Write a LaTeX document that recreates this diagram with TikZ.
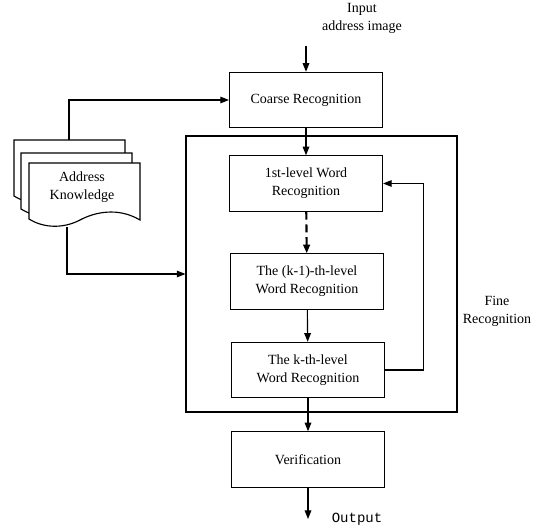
\documentclass[tikz,border=0pt]{standalone}
\usepackage{fontspec}
\setmainfont{Liberation Serif}
\setmonofont{Liberation Mono}
\usetikzlibrary{arrows.meta}

\tikzset{
  box/.style={draw, line width=0.85pt, minimum width=114.75pt, minimum height=41.5pt, align=center},
  flow/.style={-{Triangle[length=6.5pt,width=5pt]}, line width=0.85pt},
}

\begin{document}
\begin{tikzpicture}[x=0.75pt, y=-0.75pt, font=\fontsize{10.5}{13.5}\selectfont]
  \useasboundingbox (0,0) rectangle (541,531);
  % main chain
  \node[box] (coarse) at (306,100) {Coarse Recognition};
  \node[draw, line width=0.85pt, minimum width=203.25pt, minimum height=207pt] (fine) at (321.5,274) {};
  \node[box] (first) at (306,183.5) {1st-level Word\\Recognition};
  \node[box] (kmin) at (307,281.5) {The (k-1)-th-level\\Word Recognition};
  \node[box] (kth) at (308,370) {The k-th-level\\Word Recognition};
  \node[box] (verif) at (308,459.5) {Verification};
  \node[align=center] (finelbl) at (497,311) {Fine\\Recognition};
  \node[align=center] (input) at (362,18) {Input\\address image};
  \coordinate (in) at (306,46);
  \coordinate (out) at (308,519);
  \node[font=\ttfamily\fontsize{10.5}{13.5}\selectfont] (outlbl) at (357,519) {Output};
  % address knowledge documents
  \foreach \dx/\dy in {-15/-23, -8/-10, 0/0}
    \draw[line width=0.85pt, fill=white, shift={(\dx,\dy)}]
      (29,163) -- (140,163) -- (140,220) .. controls (118,207) and (95,212) .. (80,220)
      .. controls (65,228) and (45,229) .. (29,219) -- cycle;
  \node[align=center] (kb) at (82,187) {Address\\Knowledge};
  \coordinate (kbtop) at (69,140);
  \coordinate (kbbot) at (67,227);
  % connectors
  \draw[flow] (in) -- (coarse);
  \draw[flow] (kbtop) |- (coarse.west);
  \draw[flow] (kbbot) |- (fine.west);
  \draw[flow] (coarse) -- (first);
  \draw[flow, line width=1.6pt, dash pattern=on 6pt off 3.5pt] (first) -- (kmin);
  \draw[flow] (kmin) -- (kth);
  \draw[flow] (kth.east) -- ++(38,0) |- (first.east);
  \draw[flow] (kth) -- (verif);
  \draw[flow] (verif) -- (out);
\end{tikzpicture}
\end{document}
